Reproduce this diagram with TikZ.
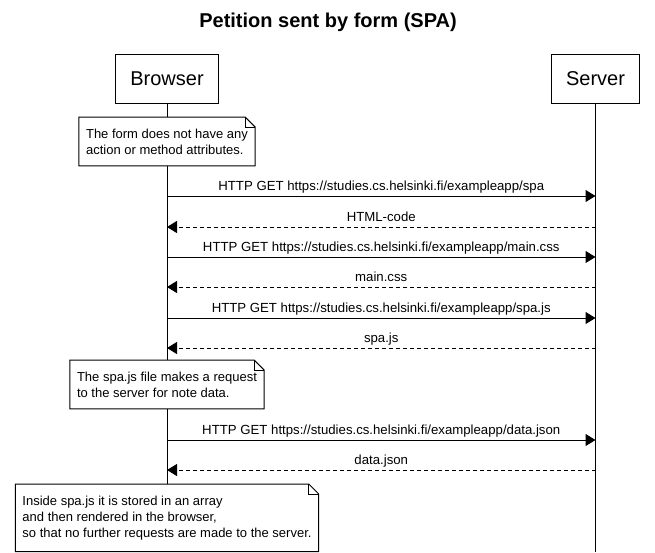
\documentclass[tikz,border=0pt]{standalone}
\usepackage{fontspec}
\setmainfont{Liberation Sans}
\usetikzlibrary{arrows.meta,calc,positioning}

\begin{document}
\begin{tikzpicture}[x=1pt, y=-1pt,
  actor/.style={draw, line width=1pt, minimum height=49pt, inner xsep=14.5pt,
    font=\fontsize{20}{24}\selectfont},
  note/.style={fill=white, align=left, inner xsep=7pt, inner ysep=11.5pt, anchor=north,
    font=\fontsize{13}{16}\selectfont},
  msg/.style={line width=1pt, -{Triangle[length=10pt,width=12pt]}},
  reply/.style={msg, dash pattern=on 4pt off 3pt},
  lbl/.style={anchor=base, yshift=5.5pt, font=\fontsize{13.2}{16}\selectfont}]

% Page
\fill[white] (0,0) rectangle (655,552);

% Title
\node[font=\fontsize{20}{24}\selectfont\bfseries] (title) at (328,22) {Petition sent by form (SPA)};

% Participants
\node[actor] (browser) at (167,78.5) {Browser};
\node[actor] (server) at (595.5,78.5) {Server};

% Lifelines
\coordinate (bEnd) at (browser.south |- 0,552);
\coordinate (sEnd) at (server.south |- 0,552);
\draw[line width=1pt] (browser.south) -- (bEnd);
\draw[line width=1pt] (server.south) -- (sEnd);

% Points on the lifelines
\foreach \i/\y in {1/196,2/227,3/257,4/287,5/318,6/348,7/440,8/470} {
  \coordinate (b\i) at (browser.south |- 0,\y);
  \coordinate (s\i) at (server.south |- 0,\y);
}

% Notes
\node[note] (note1) at (browser.south |- 0,117) {The form does not have any\\action or method attributes.};
\node[note] (note2) at (browser.south |- 0,360) {The spa.js file makes a request\\to the server for note data.};
\node[note] (note3) at (browser.south |- 0,484) {Inside spa.js it is stored in an array\\and then rendered in the browser,\\so that no further requests are made to the server.};
\foreach \n in {note1,note2,note3} {
  \draw[line width=1pt] (\n.north west) -- ([xshift=-10pt]\n.north east)
    -- ([yshift=-10pt]\n.north east) -- (\n.south east) -- (\n.south west) -- cycle;
  \draw[line width=1pt] ([xshift=-10pt]\n.north east) |- ([yshift=-10pt]\n.north east);
}

% Messages
\draw[msg] (b1) -- node[lbl] {HTTP GET https://studies.cs.helsinki.fi/exampleapp/spa} (s1);
\draw[reply] (s2) -- node[lbl] {HTML-code} (b2);
\draw[msg] (b3) -- node[lbl] {HTTP GET https://studies.cs.helsinki.fi/exampleapp/main.css} (s3);
\draw[reply] (s4) -- node[lbl] {main.css} (b4);
\draw[msg] (b5) -- node[lbl] {HTTP GET https://studies.cs.helsinki.fi/exampleapp/spa.js} (s5);
\draw[reply] (s6) -- node[lbl] {spa.js} (b6);
\draw[msg] (b7) -- node[lbl] {HTTP GET https://studies.cs.helsinki.fi/exampleapp/data.json} (s7);
\draw[reply] (s8) -- node[lbl] {data.json} (b8);
\end{tikzpicture}
\end{document}
